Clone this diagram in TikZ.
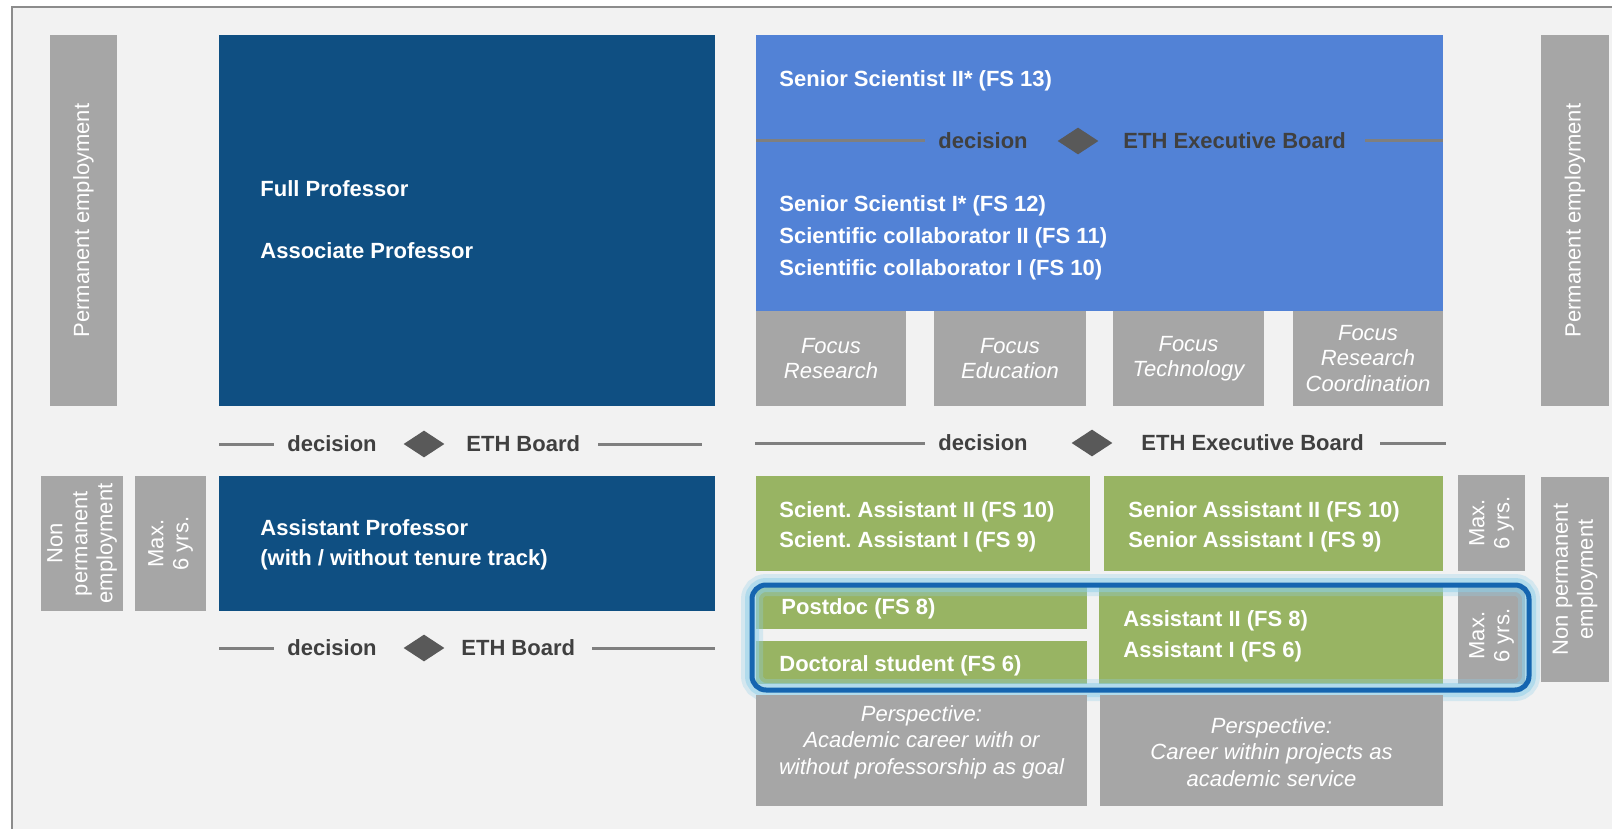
\documentclass[tikz,border=0pt]{standalone}
\usepackage{fontspec}
\setmainfont{Liberation Sans}
\frenchspacing
\usetikzlibrary{fit,shapes.geometric}
\definecolor{dblue}{HTML}{0F4F82}
\definecolor{lblue}{HTML}{5282D6}
\definecolor{lgreen}{HTML}{98B463}
\definecolor{gbox}{HTML}{A6A6A6}
\definecolor{bgc}{HTML}{F2F2F2}
\definecolor{frm}{HTML}{8C8C8C}
\definecolor{dtxt}{HTML}{404040}
\definecolor{dia}{HTML}{595959}
\definecolor{lin}{HTML}{7F7F7F}
\definecolor{hl}{HTML}{1565B0}
\definecolor{glow}{HTML}{8FD0EA}
\begin{document}
\begin{tikzpicture}[x=0.5pt,y=-0.5pt,
 blk/.style={inner sep=0pt,outer sep=0pt},
 wt/.style={font=\bfseries\fontsize{11}{13}\selectfont,text=white,inner sep=0pt,anchor=base west},
 vt/.style={font=\fontsize{11}{12.5}\selectfont,text=white,inner sep=0pt,rotate=90,align=center},
 ft/.style={font=\itshape\fontsize{11}{12.75}\selectfont,text=white,inner sep=0pt,align=center},
 pt/.style={font=\itshape\fontsize{11}{13.25}\selectfont,text=white,inner sep=0pt,align=center},
 dt/.style={font=\bfseries\fontsize{11}{13}\selectfont,text=dtxt,inner sep=0pt,anchor=west},
 dmd/.style={diamond,aspect=1.5,fill=dia,inner sep=0pt,minimum width=20.5pt,minimum height=13.5pt},
 dl/.style={draw=lin,line width=1.5pt},
]
\useasboundingbox (0,0) rectangle (1612,829);
\fill[white] (0,0) rectangle (1612,829);
\fill[bgc] (12,7) rectangle (1612,829);
\draw[frm,line width=1pt] (12,829) -- (12,7) -- (1612,7);

% permanent employment bars
\node[blk,fill=gbox,fit={(50,35)(117,406)}] (permL) {};
\node[vt] (permLt) at (permL.center) {Permanent employment};
\node[blk,fill=gbox,fit={(1541,35)(1609,406)}] (permR) {};
\node[vt] (permRt) at (permR.center) {Permanent employment};

% professors
\node[blk,fill=dblue,fit={(219,35)(715,406)}] (full) {};
\node[wt] (fullt) at (260,197) {Full Professor};
\node[wt] (assoct) at (260,258) {Associate Professor};

% senior scientists
\node[blk,fill=lblue,fit={(756,35)(1443,311)}] (sen) {};
\node[wt] (s13) at (779,87) {Senior Scientist II* (FS 13)};
\node[wt] (s12) at (779,212) {Senior Scientist I* (FS 12)};
\node[wt] (s11) at (779,243) {Scientific collaborator II (FS 11)};
\node[wt] (s10) at (779,275) {Scientific collaborator I (FS 10)};

% focus boxes
\node[blk,fill=gbox,fit={(756,311)(906,406)}] (f1) {};
\node[ft] (f1t) at (f1.center) {Focus\\Research};
\node[blk,fill=gbox,fit={(934,311)(1086,406)}] (f2) {};
\node[ft] (f2t) at (f2.center) {Focus\\Education};
\node[blk,fill=gbox,fit={(1113,311)(1264,406)}] (f3) {};
\node[ft] (f3t) at (f3.center) {Focus\\Technology};
\node[blk,fill=gbox,fit={(1293,311)(1443,406)}] (f4) {};
\node[ft] (f4t) at (f4.center) {Focus\\Research\\Coordination};

% decision row A (inside blue box)
\coordinate (a1) at (756,141);
\node[dt] (adec) at (938,141) {decision};
\node[dmd] (adia) at (1078,141) {};
\node[dt] (aeth) at (1123,141) {ETH Executive Board};
\coordinate (a4) at (1443,141);
\draw[dl] (a1) -- ([xshift=-6.5pt]adec.west);
\draw[dl] ([xshift=9.5pt]aeth.east) -- (a4);

% decision row B (right)
\coordinate (b1) at (755,443);
\node[dt] (bdec) at (938,443) {decision};
\node[dmd] (bdia) at (1092,443) {};
\node[dt] (beth) at (1141,443) {ETH Executive Board};
\coordinate (b4) at (1446,443);
\draw[dl] (b1) -- ([xshift=-6.5pt]bdec.west);
\draw[dl] ([xshift=8pt]beth.east) -- (b4);

% decision row C (left)
\coordinate (c1) at (219,444);
\node[dt] (cdec) at (287,444) {decision};
\node[dmd] (cdia) at (424,444) {};
\node[dt] (ceth) at (466,444) {ETH Board};
\coordinate (c4) at (702,444);
\draw[dl] (c1) -- ([xshift=-6.5pt]cdec.west);
\draw[dl] ([xshift=9pt]ceth.east) -- (c4);

% decision row D (lower left)
\coordinate (d1) at (219,648);
\node[dt] (ddec) at (287,648) {decision};
\node[dmd] (ddia) at (424,648) {};
\node[dt] (deth) at (461,648) {ETH Board};
\coordinate (d4) at (715,648);
\draw[dl] (d1) -- ([xshift=-6.5pt]ddec.west);
\draw[dl] ([xshift=8.5pt]deth.east) -- (d4);

% lower left
\node[blk,fill=gbox,fit={(41,476)(123,611)}] (npL) {};
\node[vt] (npLt) at (npL.center) {Non\\permanent\\employment};
\node[blk,fill=gbox,fit={(135,476)(206,611)}] (maxL) {};
\node[vt] (maxLt) at (maxL.center) {Max.\\6 yrs.};
\node[blk,fill=dblue,fit={(219,476)(715,611)}] (asst) {};
\node[wt] (asstt1) at (260,535) {Assistant Professor};
\node[wt] (asstt2) at (260,565) {(with / without tenure track)};

% green boxes
\node[blk,fill=lgreen,fit={(756,476)(1090,571)}] (sa) {};
\node[wt] (sa1) at (779,517) {Scient. Assistant II (FS 10)};
\node[wt] (sa2) at (779,547) {Scient. Assistant I (FS 9)};
\node[blk,fill=lgreen,fit={(1104,476)(1443,571)}] (sna) {};
\node[wt] (sna1) at (1128,517) {Senior Assistant II (FS 10)};
\node[wt] (sna2) at (1128,547) {Senior Assistant I (FS 9)};
\node[blk,fill=gbox,fit={(1458,475)(1525,571)}] (maxR1) {};
\node[vt] (maxR1t) at (maxR1.center) {Max.\\6 yrs.};
\node[blk,fill=gbox,fit={(1541,477)(1609,682)}] (npR) {};
\node[vt] (npRt) at (npR.center) {Non permanent\\employment};

\node[blk,fill=lgreen,fit={(756,587)(1087,629)}] (pd) {};
\node[blk,fill=lgreen,fit={(756,641)(1087,684)}] (doc) {};
\node[blk,fill=lgreen,fit={(1099,587)(1443,684)}] (as) {};
\node[blk,fill=gbox,fit={(1458,587)(1525,684)}] (maxR2) {};

% highlight
\node[blk,fit={(752,585)(1529,690)},draw=hl,line width=2.5pt,rounded corners=7pt,
  preaction={draw=glow,line width=11pt,opacity=.3,rounded corners=7pt},
  preaction={draw=glow,line width=7pt,opacity=.5,rounded corners=7pt}] (hlbox) {};

\node[wt] (pdt) at (781,614) {Postdoc (FS 8)};
\node[wt] (doct) at (779,671) {Doctoral student (FS 6)};
\node[wt] (as1) at (1123,626) {Assistant II (FS 8)};
\node[wt] (as2) at (1123,657) {Assistant I (FS 6)};
\node[vt] (maxR2t) at (maxR2.center) {Max.\\6 yrs.};

% perspective boxes
\node[blk,fill=gbox,fit={(756,695)(1087,806)}] (p1) {};
\node[pt] (p1t) at (921.5,742) {Perspective:\\Academic career with or\\without professorship as goal};
\node[blk,fill=gbox,fit={(1100,695)(1443,806)}] (p2) {};
\node[pt] (p2t) at (1271.5,752) {Perspective:\\Career within projects as\\academic service};
\end{tikzpicture}
\end{document}
